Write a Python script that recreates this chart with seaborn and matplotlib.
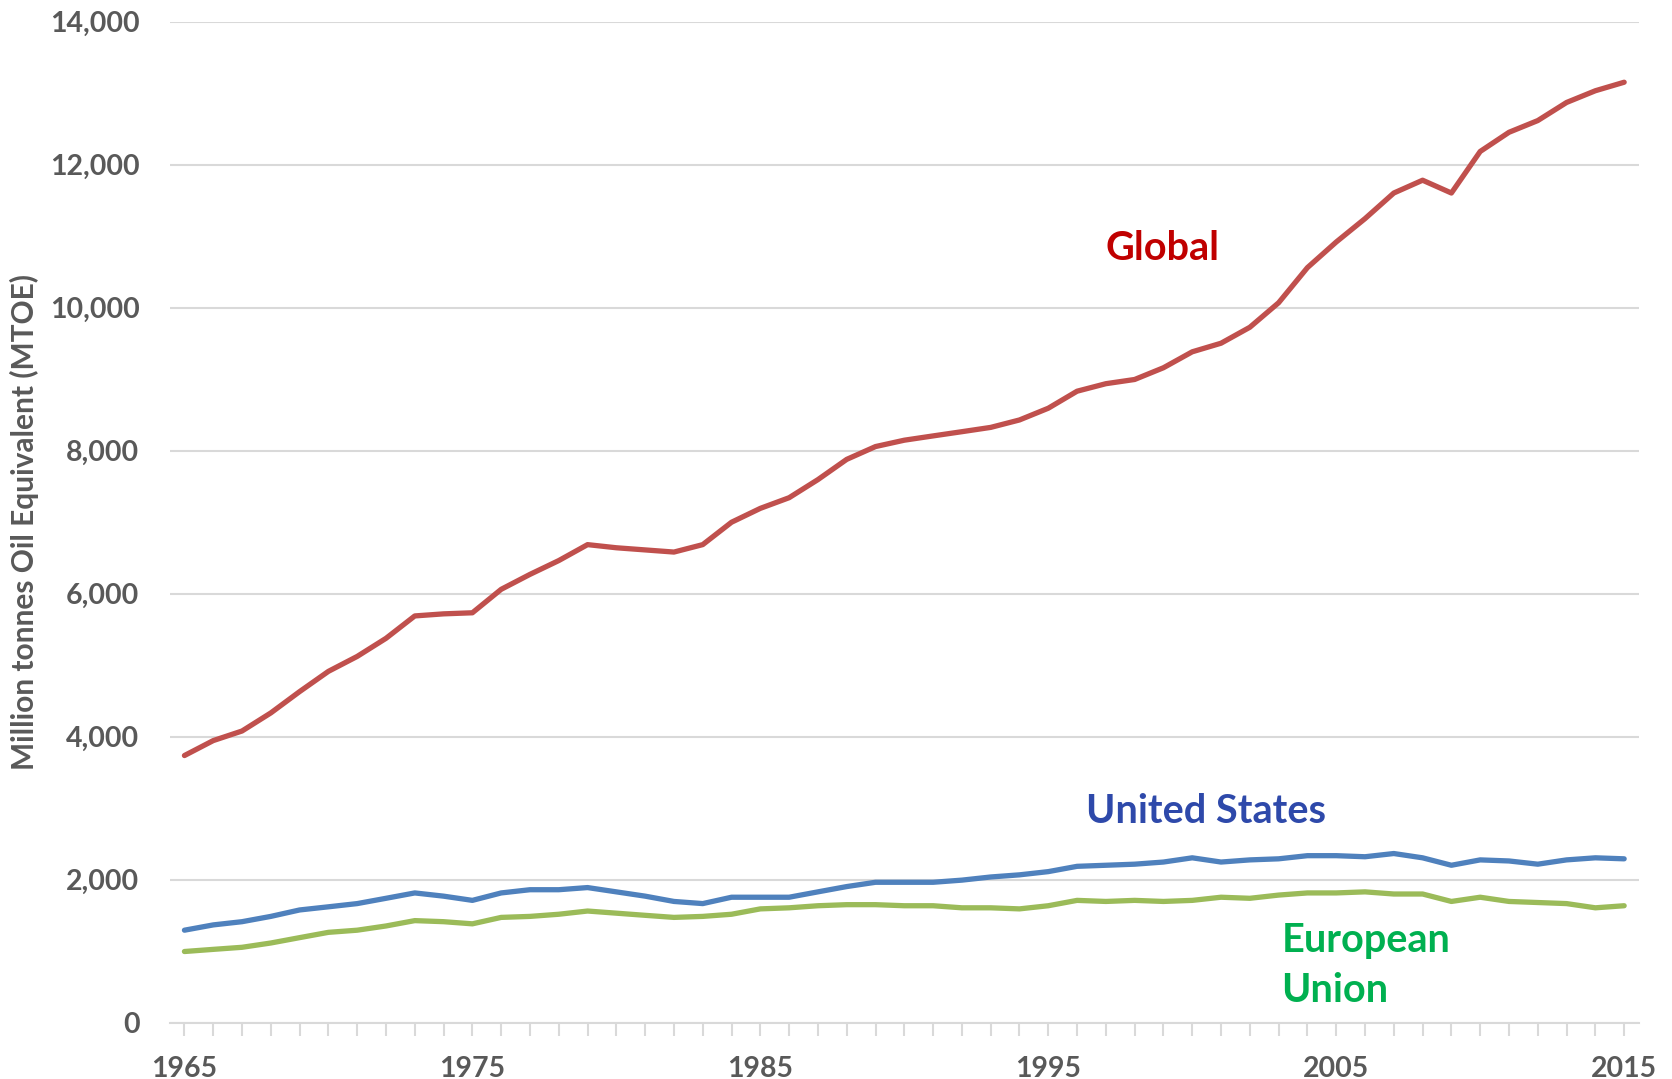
import numpy as np
import pandas as pd
import matplotlib
matplotlib.use("Agg")
import matplotlib.pyplot as plt
import seaborn as sns
from matplotlib.ticker import FuncFormatter, FixedLocator

years = list(range(1965, 2016))
global_vals = [3738, 3947, 4081, 4334, 4632, 4915, 5124, 5377, 5690, 5719,
               5734, 6062, 6271, 6464, 6687, 6643, 6613, 6583, 6687, 7000,
               7194, 7343, 7596, 7879, 8058, 8147, 8207, 8266, 8326, 8430,
               8594, 8832, 8937, 8996, 9160, 9383, 9503, 9726, 10069, 10560,
               10918, 11245, 11603, 11782, 11603, 12184, 12452, 12616, 12869, 13033,
               13152]
us_vals = [1296, 1370, 1415, 1489, 1579, 1623, 1668, 1742, 1817, 1772,
           1713, 1817, 1862, 1862, 1892, 1832, 1772, 1698, 1668, 1757,
           1757, 1757, 1832, 1906, 1966, 1966, 1966, 1996, 2040, 2070,
           2115, 2189, 2204, 2219, 2249, 2308, 2249, 2279, 2294, 2338,
           2338, 2323, 2368, 2308, 2204, 2279, 2264, 2219, 2279, 2308,
           2294]
eu_vals = [998, 1028, 1057, 1117, 1192, 1266, 1296, 1355, 1430, 1415,
           1385, 1475, 1489, 1519, 1564, 1534, 1504, 1475, 1489, 1519,
           1594, 1609, 1638, 1653, 1653, 1638, 1638, 1609, 1609, 1594,
           1638, 1713, 1698, 1713, 1698, 1713, 1757, 1742, 1787, 1817,
           1817, 1832, 1802, 1802, 1698, 1757, 1698, 1683, 1668, 1609,
           1638]
series_names = ["Global", "United States", "European Union"]
line_colors = ["#C0504D", "#4F81BD", "#9BBB59"]
label_colors = ["#C00000", "#2E49AA", "#00B050"]
x_tick_years = [1965, 1975, 1985, 1995, 2005, 2015]
y_ticks = [0, 2000, 4000, 6000, 8000, 10000, 12000, 14000]

df = pd.DataFrame({
    "year": years * 3,
    "value": global_vals + us_vals + eu_vals,
    "series": sum([[n] * len(years) for n in series_names], []),
})

sns.set_theme(style="white")
plt.rcParams["font.family"] = ["Lato", "DejaVu Sans"]

fig = plt.figure(figsize=(16.72, 10.79), dpi=100)
ax = fig.add_axes([0.1017, 0.052, 0.8783, 0.928])

sns.lineplot(data=df, x="year", y="value", hue="series", hue_order=series_names,
             palette=line_colors, linewidth=3.8, legend=False, ax=ax)

ax.set_xlim(years[0] - 0.5, years[-1] + 0.5)
ax.set_ylim(0, 14000)
ax.set_yticks(y_ticks)
ax.yaxis.set_major_formatter(FuncFormatter(lambda v, p: f"{int(v):,}"))
ax.grid(axis="y", color="#D9D9D9", linewidth=1.5)
ax.set_axisbelow(True)

# x axis: category-style ticks (upward at boundaries, downward at centres)
ax.xaxis.set_major_locator(FixedLocator(x_tick_years))
ax.xaxis.set_minor_locator(FixedLocator([y + 0.5 for y in [years[0] - 1] + years]))
ax.tick_params(axis="x", which="major", length=0, pad=24)
ax.tick_params(axis="x", which="minor", direction="in", length=9, width=1.5,
               color="#D9D9D9")
ax.xaxis.set_major_formatter(FuncFormatter(lambda v, p: f"{int(v)}"))
ax.tick_params(axis="y", length=0, pad=22)

for lab in ax.get_xticklabels() + ax.get_yticklabels():
    lab.set_fontweight("bold")
    lab.set_fontsize(20.5)
    lab.set_color("#595959")

for s in ["top", "right", "left"]:
    ax.spines[s].set_visible(False)
ax.spines["bottom"].set_color("#D9D9D9")
ax.spines["bottom"].set_linewidth(1.5)

ax.set_xlabel("")
ax.set_ylabel("Million tonnes Oil Equivalent (MTOE)", fontsize=21.5,
              fontweight="bold", color="#595959", labelpad=8)

sec = ax.secondary_xaxis("bottom")
sec.set_xticks(years)
sec.tick_params(direction="out", length=9, width=1.5, color="#D9D9D9", labelbottom=False)
sec.spines["bottom"].set_visible(False)

ax.text(1997.0, 10830, "Global", color=label_colors[0], fontsize=28.5,
        fontweight="bold", ha="left", va="center")
ax.text(1996.3, 2960, "United States", color=label_colors[1], fontsize=28.5,
        fontweight="bold", ha="left", va="center")
ax.text(2003.1, 800, "European\nUnion", color=label_colors[2], fontsize=28.5,
        fontweight="bold", ha="left", va="center", linespacing=1.45)

fig.savefig("out.png", dpi=100)
